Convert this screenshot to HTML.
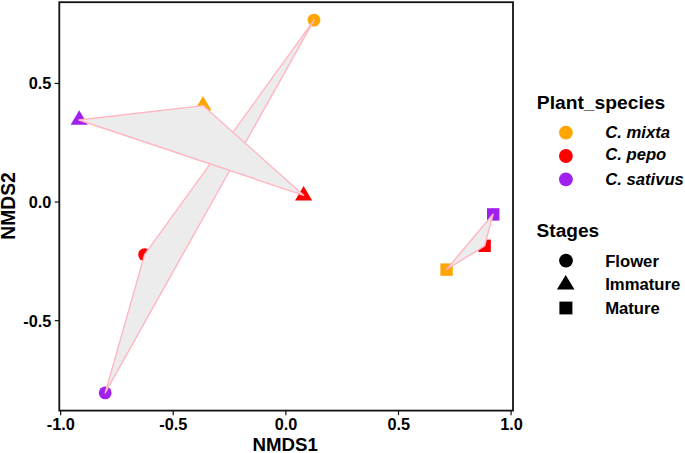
<!DOCTYPE html>
<html>
<head>
<meta charset="utf-8">
<style>
html,body{margin:0;padding:0;background:#fff;}
body{width:685px;height:453px;overflow:hidden;}
svg{display:block;}
text{font-family:"Liberation Sans",sans-serif;font-weight:bold;fill:#000;}
.tick{font-size:16.3px;}
.title{font-size:19.44px;}
.leg{font-size:16.67px;}
.it{font-style:italic;}
</style>
</head>
<body>
<svg width="685" height="453" viewBox="0 0 685 453">
<rect x="0" y="0" width="685" height="453" fill="#fff"/>
<!-- points -->
<g>
<circle cx="314" cy="20.1" r="6.4" fill="#FFA500"/>
<circle cx="144.6" cy="254.6" r="6.4" fill="#FF0000"/>
<circle cx="105.2" cy="392.9" r="6.4" fill="#A020F0"/>
<polygon points="79.2,110.3 87.8,124.8 70.6,124.8" fill="#A020F0"/>
<polygon points="203,95.9 211.6,110.4 194.4,110.4" fill="#FFA500"/>
<polygon points="303.6,185.9 312.2,200.6 295,200.6" fill="#FF0000"/>
<rect x="487" y="208.2" width="12.4" height="12.4" fill="#A020F0"/>
<rect x="478.4" y="239.6" width="12.4" height="12.4" fill="#FF0000"/>
<rect x="440.4" y="263.4" width="12.4" height="12.4" fill="#FFA500"/>
</g>
<!-- polygons -->
<g fill="#ECECEC" stroke="#FFB6C1" stroke-width="1.4" stroke-linejoin="round">
<polygon points="314,20.1 144.6,254.6 105.2,392.9"/>
<polygon points="79,120 203,105.6 303.6,195.3"/>
<polygon points="493.1,214.3 484.6,246 446.5,269.5"/>
</g>
<!-- panel border -->
<rect x="59.3" y="2.2" width="453.7" height="408.4" fill="none" stroke="#111" stroke-width="1.8"/>
<!-- ticks -->
<g stroke="#111" stroke-width="1.2">
<line x1="60.6" y1="411" x2="60.6" y2="415.2"/>
<line x1="173.2" y1="411" x2="173.2" y2="415.2"/>
<line x1="285.85" y1="411" x2="285.85" y2="415.2"/>
<line x1="398.5" y1="411" x2="398.5" y2="415.2"/>
<line x1="511.1" y1="411" x2="511.1" y2="415.2"/>
<line x1="54.7" y1="83.45" x2="59" y2="83.45"/>
<line x1="54.7" y1="202.05" x2="59" y2="202.05"/>
<line x1="54.7" y1="320.65" x2="59" y2="320.65"/>
</g>
<g class="tick" text-anchor="middle">
<text x="60.8" y="430.2">-1.0</text>
<text x="173.4" y="430.2">-0.5</text>
<text x="286" y="430.2">0.0</text>
<text x="398.7" y="430.2">0.5</text>
<text x="511.5" y="430.2">1.0</text>
</g>
<g class="tick" text-anchor="end">
<text x="51.4" y="89.4">0.5</text>
<text x="51.4" y="208">0.0</text>
<text x="51.4" y="326.6">-0.5</text>
</g>
<text class="title" text-anchor="middle" x="285.2" y="450.6" style="font-size:18.7px">NMDS1</text>
<text class="title" text-anchor="middle" transform="translate(15.4,205.9) rotate(-90)" style="font-size:19.3px">NMDS2</text>
<!-- legend -->
<text class="title" x="536.8" y="109" style="font-size:19.25px">Plant_species</text>
<circle cx="565.9" cy="132.7" r="6.9" fill="#FFA500"/>
<circle cx="565.9" cy="156" r="6.9" fill="#FF0000"/>
<circle cx="565.9" cy="179.4" r="6.9" fill="#A020F0"/>
<g class="leg it">
<text x="605.2" y="138">C. mixta</text>
<text x="605.2" y="160">C. pepo</text>
<text x="605.2" y="184.8">C. sativus</text>
</g>
<text class="title" x="536.6" y="237.3" style="font-size:19.1px">Stages</text>
<circle cx="566" cy="260.6" r="6.9" fill="#000"/>
<polygon points="565.7,275 574.5,289.4 556.9,289.4" fill="#000"/>
<rect x="559.4" y="301.6" width="13" height="12.8" fill="#000"/>
<g class="leg">
<text x="605.2" y="266.7">Flower</text>
<text x="605.2" y="290.3">Immature</text>
<text x="605.2" y="314">Mature</text>
</g>
</svg>
</body>
</html>
